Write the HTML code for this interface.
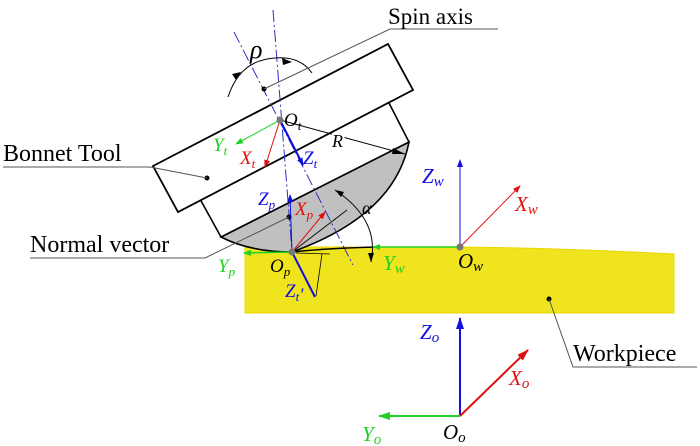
<!DOCTYPE html>
<html><head><style>body{margin:0;background:#fff}svg{display:block}</style></head><body>
<svg width="700" height="446" viewBox="0 0 700 446" xmlns="http://www.w3.org/2000/svg" font-family="Liberation Serif, serif">
<defs>
<marker id="ab" markerWidth="8" markerHeight="6" refX="7" refY="3" orient="auto" markerUnits="userSpaceOnUse"><path d="M0,0L8,3L0,6z" fill="#1010e0"/></marker>
<marker id="ar" markerWidth="8" markerHeight="6" refX="7" refY="3" orient="auto" markerUnits="userSpaceOnUse"><path d="M0,0L8,3L0,6z" fill="#e01010"/></marker>
<marker id="ag" markerWidth="8" markerHeight="6" refX="7" refY="3" orient="auto" markerUnits="userSpaceOnUse"><path d="M0,0L8,3L0,6z" fill="#20d020"/></marker>
<marker id="abL" markerWidth="12" markerHeight="8" refX="11" refY="4" orient="auto" markerUnits="userSpaceOnUse"><path d="M0,0L12,4L0,8z" fill="#1010e0"/></marker>
<marker id="arL" markerWidth="12" markerHeight="8" refX="11" refY="4" orient="auto" markerUnits="userSpaceOnUse"><path d="M0,0L12,4L0,8z" fill="#e01010"/></marker>
<marker id="agL" markerWidth="12" markerHeight="8" refX="11" refY="4" orient="auto" markerUnits="userSpaceOnUse"><path d="M0,0L12,4L0,8z" fill="#20d020"/></marker>
</defs>
<path d="M245,247 L460,247 Q560,248 674,254 L674,313 L245,313 Z" fill="#f0e41e" stroke="#e8d800" stroke-width="1"/>
<path d="M221,237 L409,142 Q395,215 292,252 Q250,252 221,237Z" fill="#c0c0c0" stroke="#000" stroke-width="1.6"/>
<path d="M200,199 L221,237 L409,142 L389,103" fill="#fff" stroke="#000" stroke-width="1.6"/>
<path d="M153,166 L388,44 L413,90 L178,212 Z" fill="#fff" stroke="#000" stroke-width="1.8"/>
<line x1="234" y1="32" x2="353" y2="265" stroke="#3030c0" stroke-width="1" stroke-dasharray="12,3,2,3"/>
<line x1="273" y1="10" x2="292" y2="252" stroke="#3030c0" stroke-width="1" stroke-dasharray="12,3,2,3"/>
<path d="M228,97 Q240,60 275,58 Q300,56 312,73" fill="none" stroke="#000" stroke-width="1"/>
<path d="M236,80 l-4,-6 l9,-2z" fill="#000"/>
<path d="M292,62 l-10,-4 l1,7z" fill="#000"/>
<text x="250" y="58" font-size="26" font-style="italic">ρ</text>
<circle cx="264" cy="89" r="2.5" fill="#000"/>
<polyline points="264,89 390,29 498,29" fill="none" stroke="#555" stroke-width="1"/>
<text x="388" y="24" font-size="23">Spin axis</text>
<circle cx="207" cy="178" r="2.5" fill="#000"/>
<polyline points="207,178 150,167 3,167" fill="none" stroke="#555" stroke-width="1"/>
<text x="3" y="161" font-size="24">Bonnet Tool</text>
<circle cx="289" cy="217" r="2.5" fill="#000"/>
<polyline points="289,217 205,258 30,258" fill="none" stroke="#555" stroke-width="1"/>
<text x="30" y="252" font-size="24">Normal vector</text>
<circle cx="549" cy="299" r="2.5" fill="#000"/>
<polyline points="549,299 573,367 697,367" fill="none" stroke="#555" stroke-width="1"/>
<text x="573" y="361" font-size="24">Workpiece</text>
<line x1="280" y1="120" x2="405" y2="154" stroke="#000" stroke-width="1"/>
<path d="M405,154 l-12,-6 l-1,6z" fill="#000"/>
<text x="332" y="147" font-size="18" font-style="italic" fill="#000" stroke="#fff" stroke-width="4" paint-order="stroke">R</text>
<line x1="292" y1="252" x2="347" y2="210" stroke="#000" stroke-width="0.8"/>
<path d="M335,190 Q380,220 371,262" fill="none" stroke="#000" stroke-width="1"/>
<path d="M335,190 l9,2 l-3,5z" fill="#000"/>
<path d="M371,262 l-3,-9 l6,0z" fill="#000"/>
<text x="362" y="214" font-size="18" font-style="italic">α</text>
<line x1="296" y1="253" x2="330" y2="254" stroke="#000" stroke-width="0.8"/>
<line x1="322" y1="254" x2="316" y2="296" stroke="#000" stroke-width="0.8"/>
<line x1="280" y1="120" x2="236" y2="144" stroke="#20d020" stroke-width="1" marker-end="url(#ag)"/>
<line x1="280" y1="120" x2="265" y2="167" stroke="#e01010" stroke-width="1" marker-end="url(#ar)"/>
<line x1="280" y1="120" x2="303" y2="165" stroke="#1010e0" stroke-width="2" marker-end="url(#ab)"/>
<circle cx="280" cy="120" r="3.5" fill="#777"/>
<text x="284" y="126" font-size="19" font-style="italic">O<tspan font-size="13" dy="4">t</tspan></text>
<text x="213" y="151" font-size="19" font-style="italic" fill="#20d020">Y<tspan font-size="13" dy="4">t</tspan></text>
<text x="240" y="164" font-size="19" font-style="italic" fill="#e01010">X<tspan font-size="13" dy="4">t</tspan></text>
<text x="303" y="164" font-size="19" font-style="italic" fill="#1010e0">Z<tspan font-size="13" dy="4">t</tspan></text>
<line x1="292" y1="252" x2="315" y2="297" stroke="#1010e0" stroke-width="2"/>
<line x1="292" y1="252" x2="290" y2="195" stroke="#1010e0" stroke-width="1" marker-end="url(#ab)"/>
<line x1="292" y1="252" x2="325" y2="212" stroke="#e01010" stroke-width="1" marker-end="url(#ar)"/>
<line x1="292" y1="252" x2="244" y2="253" stroke="#20d020" stroke-width="1.5" marker-end="url(#ag)"/>
<path d="M292,252 Q330,248 380,247" fill="none" stroke="#000" stroke-width="1.5"/>
<circle cx="292" cy="252" r="3.5" fill="#777"/>
<text x="258" y="205" font-size="19" font-style="italic" fill="#1010e0">Z<tspan font-size="13" dy="4">p</tspan></text>
<text x="295" y="215" font-size="19" font-style="italic" fill="#e01010">X<tspan font-size="13" dy="4">p</tspan></text>
<text x="270" y="272" font-size="19" font-style="italic">O<tspan font-size="13" dy="4">p</tspan></text>
<text x="218" y="272" font-size="19" font-style="italic" fill="#20d020">Y<tspan font-size="13" dy="4">p</tspan></text>
<text x="285" y="297" font-size="19" font-style="italic" fill="#1010e0">Z<tspan font-size="13" dy="4">t</tspan>'</text>
<line x1="460" y1="247" x2="373" y2="247" stroke="#20d020" stroke-width="1.5" marker-end="url(#ag)"/>
<line x1="460" y1="247" x2="460" y2="160" stroke="#1010e0" stroke-width="1" marker-end="url(#ab)"/>
<line x1="460" y1="247" x2="520" y2="186" stroke="#e01010" stroke-width="1" marker-end="url(#ar)"/>
<circle cx="460" cy="247" r="3.5" fill="#777"/>
<text x="383" y="270" font-size="21" font-style="italic" fill="#20d020">Y<tspan font-size="15" dy="3">w</tspan></text>
<text x="458" y="268" font-size="21" font-style="italic">O<tspan font-size="15" dy="3">w</tspan></text>
<text x="422" y="183" font-size="21" font-style="italic" fill="#1010e0">Z<tspan font-size="15" dy="3">w</tspan></text>
<text x="515" y="211" font-size="21" font-style="italic" fill="#e01010">X<tspan font-size="15" dy="3">w</tspan></text>
<line x1="460" y1="416" x2="460" y2="318" stroke="#1010e0" stroke-width="2" marker-end="url(#abL)"/>
<line x1="460" y1="416" x2="528" y2="350" stroke="#e01010" stroke-width="2" marker-end="url(#arL)"/>
<line x1="460" y1="416" x2="379" y2="416" stroke="#20d020" stroke-width="2" marker-end="url(#agL)"/>
<text x="420" y="339" font-size="21" font-style="italic" fill="#1010e0">Z<tspan font-size="15" dy="3">o</tspan></text>
<text x="509" y="385" font-size="21" font-style="italic" fill="#e01010">X<tspan font-size="15" dy="3">o</tspan></text>
<text x="443" y="439" font-size="21" font-style="italic">O<tspan font-size="15" dy="3">o</tspan></text>
<text x="362" y="441" font-size="21" font-style="italic" fill="#20d020">Y<tspan font-size="15" dy="3">o</tspan></text>
</svg>
</body></html>
